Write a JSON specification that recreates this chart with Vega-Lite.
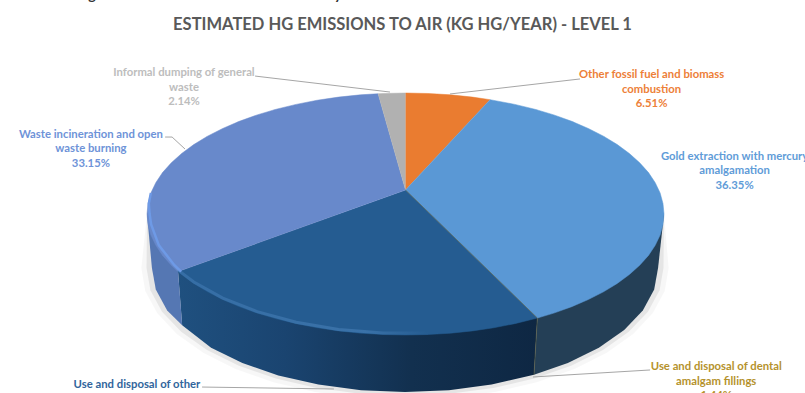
{
  "$schema": "https://vega.github.io/schema/vega-lite/v6.json",
  "width": 805,
  "height": 393,
  "padding": 0,
  "autosize": {"type": "none"},
  "background": "#ffffff",
  "title": {
    "text": "ESTIMATED HG EMISSIONS TO AIR (KG HG/YEAR) - LEVEL 1",
    "orient": "top",
    "anchor": "middle",
    "offset": -58,
    "baseline": "alphabetic",
    "font": "Lato",
    "fontSize": 16.55,
    "fontWeight": "bold",
    "color": "#595959"
  },
  "config": {"view": {"stroke": null}},
  "datasets": {
    "shares": [
      {"category": "Other fossil fuel and biomass combustion", "share": 6.51, "u": 0.952, "v": 1.12, "label": "Other fossil fuel and biomass\ncombustion\n6.51%"},
      {"category": "Gold extraction with mercury amalgamation", "share": 36.35, "u": 1.273, "v": 0.45, "label": "Gold extraction with mercury\namalgamation\n36.35%"},
      {"category": "Use and disposal of dental amalgam fillings", "share": 1.44, "u": 1.202, "v": -1.293, "label": "Use and disposal of dental\namalgam fillings\n1.44%"},
      {"category": "Use and disposal of other", "share": 20.41, "u": -1.039, "v": -1.434, "label": "Use and disposal of other"},
      {"category": "Waste incineration and open waste burning", "share": 33.15, "u": -1.217, "v": 0.632, "label": "Waste incineration and open\nwaste burning\n33.15%"},
      {"category": "Informal dumping of general waste", "share": 2.14, "u": -0.857, "v": 1.14, "label": "Informal dumping of general\nwaste\n2.14%"}
    ],
    "cutText": [
      {"u": -1.213, "v": 1.7686, "glyph": "g"},
      {"u": -0.261, "v": 1.7686, "glyph": "y"}
    ],
    "shadowWide": [
      {"u":1,"v":0},{"u":1.018,"v":-0.446},{"u":1.003,"v":-0.636},{"u":0.957,"v":-0.819},{"u":0.881,"v":-0.991},{"u":0.779,"v":-1.147},{"u":0.654,"v":-1.281},{"u":0.508,"v":-1.39},{"u":0.347,"v":-1.471},{"u":0.176,"v":-1.52},{"u":-0.002,"v":-1.536},{"u":-0.179,"v":-1.52},{"u":-0.351,"v":-1.471},{"u":-0.512,"v":-1.39},{"u":-0.658,"v":-1.281},{"u":-0.783,"v":-1.147},{"u":-0.885,"v":-0.991},{"u":-0.961,"v":-0.819},{"u":-1.007,"v":-0.636},{"u":-1.022,"v":-0.446},{"u":-1,"v":0}
    ],
    "shadowNear": [
      {"u":1,"v":0},{"u":0.998,"v":-0.446},{"u":0.983,"v":-0.63},{"u":0.938,"v":-0.807},{"u":0.864,"v":-0.974},{"u":0.764,"v":-1.124},{"u":0.641,"v":-1.254},{"u":0.498,"v":-1.36},{"u":0.34,"v":-1.438},{"u":0.172,"v":-1.485},{"u":-0.002,"v":-1.501},{"u":-0.176,"v":-1.485},{"u":-0.344,"v":-1.438},{"u":-0.502,"v":-1.36},{"u":-0.645,"v":-1.254},{"u":-0.768,"v":-1.124},{"u":-0.868,"v":-0.974},{"u":-0.942,"v":-0.807},{"u":-0.987,"v":-0.63},{"u":-1.002,"v":-0.446},{"u":-1,"v":0}
    ],
    "wallGold": [
      {"u":1,"v":0},{"u":0.977,"v":-0.446},{"u":0.962,"v":-0.624},{"u":0.918,"v":-0.797},{"u":0.846,"v":-0.959},{"u":0.748,"v":-1.105},{"u":0.628,"v":-1.231},{"u":0.497,"v":-1.328},{"u":0.51,"v":-0.86}
    ],
    "wallOther": [
      {"u":0.51,"v":-0.86},{"u":0.497,"v":-1.328},{"u":0.333,"v":-1.41},{"u":0.168,"v":-1.456},{"u":-0.002,"v":-1.471},{"u":-0.172,"v":-1.456},{"u":-0.337,"v":-1.41},{"u":-0.492,"v":-1.334},{"u":-0.631,"v":-1.231},{"u":-0.752,"v":-1.105},{"u":-0.864,"v":-0.92},{"u":-0.88,"v":-0.476}
    ],
    "wallWaste": [
      {"u":-0.88,"v":-0.476},{"u":-0.864,"v":-0.92},{"u":-0.922,"v":-0.797},{"u":-0.966,"v":-0.624},{"u":-0.981,"v":-0.446},{"u":-1,"v":0}
    ],
    "faces": [
      {"category":"Other fossil fuel","u":0,"v":0.198},{"category":"Other fossil fuel","u":0,"v":1},{"category":"Other fossil fuel","u":0.087,"v":0.996},{"category":"Other fossil fuel","u":0.174,"v":0.985},{"category":"Other fossil fuel","u":0.259,"v":0.966},{"category":"Other fossil fuel","u":0.327,"v":0.945},

      {"category":"Gold extraction","u":0,"v":0.198},{"category":"Gold extraction","u":0.327,"v":0.945},{"category":"Gold extraction","u":0.423,"v":0.906},{"category":"Gold extraction","u":0.5,"v":0.866},{"category":"Gold extraction","u":0.574,"v":0.819},{"category":"Gold extraction","u":0.643,"v":0.766},{"category":"Gold extraction","u":0.707,"v":0.707},{"category":"Gold extraction","u":0.766,"v":0.643},{"category":"Gold extraction","u":0.819,"v":0.574},{"category":"Gold extraction","u":0.866,"v":0.5},{"category":"Gold extraction","u":0.906,"v":0.423},{"category":"Gold extraction","u":0.94,"v":0.342},{"category":"Gold extraction","u":0.966,"v":0.259},{"category":"Gold extraction","u":0.985,"v":0.174},{"category":"Gold extraction","u":0.996,"v":0.087},{"category":"Gold extraction","u":1,"v":0},{"category":"Gold extraction","u":0.996,"v":-0.087},{"category":"Gold extraction","u":0.985,"v":-0.174},{"category":"Gold extraction","u":0.966,"v":-0.259},{"category":"Gold extraction","u":0.94,"v":-0.342},{"category":"Gold extraction","u":0.906,"v":-0.423},{"category":"Gold extraction","u":0.866,"v":-0.5},{"category":"Gold extraction","u":0.819,"v":-0.574},{"category":"Gold extraction","u":0.766,"v":-0.643},{"category":"Gold extraction","u":0.707,"v":-0.707},{"category":"Gold extraction","u":0.643,"v":-0.766},{"category":"Gold extraction","u":0.574,"v":-0.819},{"category":"Gold extraction","u":0.51,"v":-0.86},

      {"category":"Other uses","u":0,"v":0.198},{"category":"Other uses","u":0.51,"v":-0.86},{"category":"Other uses","u":0.423,"v":-0.906},{"category":"Other uses","u":0.342,"v":-0.94},{"category":"Other uses","u":0.259,"v":-0.966},{"category":"Other uses","u":0.174,"v":-0.985},{"category":"Other uses","u":0.087,"v":-0.996},{"category":"Other uses","u":0,"v":-1},{"category":"Other uses","u":-0.087,"v":-0.996},{"category":"Other uses","u":-0.174,"v":-0.985},{"category":"Other uses","u":-0.259,"v":-0.966},{"category":"Other uses","u":-0.342,"v":-0.94},{"category":"Other uses","u":-0.423,"v":-0.906},{"category":"Other uses","u":-0.5,"v":-0.866},{"category":"Other uses","u":-0.574,"v":-0.819},{"category":"Other uses","u":-0.643,"v":-0.766},{"category":"Other uses","u":-0.707,"v":-0.707},{"category":"Other uses","u":-0.766,"v":-0.643},{"category":"Other uses","u":-0.819,"v":-0.574},{"category":"Other uses","u":-0.866,"v":-0.5},{"category":"Other uses","u":-0.88,"v":-0.476},

      {"category":"Waste incineration","u":0,"v":0.198},{"category":"Waste incineration","u":-0.88,"v":-0.476},{"category":"Waste incineration","u":-0.906,"v":-0.423},{"category":"Waste incineration","u":-0.94,"v":-0.342},{"category":"Waste incineration","u":-0.966,"v":-0.259},{"category":"Waste incineration","u":-0.985,"v":-0.174},{"category":"Waste incineration","u":-0.996,"v":-0.087},{"category":"Waste incineration","u":-1,"v":0},{"category":"Waste incineration","u":-0.996,"v":0.087},{"category":"Waste incineration","u":-0.985,"v":0.174},{"category":"Waste incineration","u":-0.966,"v":0.259},{"category":"Waste incineration","u":-0.94,"v":0.342},{"category":"Waste incineration","u":-0.906,"v":0.423},{"category":"Waste incineration","u":-0.866,"v":0.5},{"category":"Waste incineration","u":-0.819,"v":0.574},{"category":"Waste incineration","u":-0.766,"v":0.643},{"category":"Waste incineration","u":-0.707,"v":0.707},{"category":"Waste incineration","u":-0.643,"v":0.766},{"category":"Waste incineration","u":-0.574,"v":0.819},{"category":"Waste incineration","u":-0.5,"v":0.866},{"category":"Waste incineration","u":-0.423,"v":0.906},{"category":"Waste incineration","u":-0.342,"v":0.94},{"category":"Waste incineration","u":-0.259,"v":0.966},{"category":"Waste incineration","u":-0.174,"v":0.985},{"category":"Waste incineration","u":-0.106,"v":0.994},

      {"category":"Informal dumping","u":0,"v":0.198},{"category":"Informal dumping","u":-0.106,"v":0.994},{"category":"Informal dumping","u":-0.087,"v":0.996},{"category":"Informal dumping","u":0,"v":1}
    ],
    "rimOther": [
      {"u":-0.88,"v":-0.464},{"u":-0.819,"v":-0.562},{"u":-0.707,"v":-0.695},{"u":-0.574,"v":-0.807},{"u":-0.423,"v":-0.894},{"u":-0.259,"v":-0.954},{"u":-0.087,"v":-0.984},{"u":0.087,"v":-0.984}
    ],
    "rimWaste": [
      {"u":-0.985,"v":0.174},{"u":-0.993,"v":0.087},{"u":-0.99,"v":0},{"u":-0.984,"v":-0.087},{"u":-0.954,"v":-0.259},{"u":-0.894,"v":-0.423},{"u":-0.868,"v":-0.476}
    ],
    "seam": [
      {"u":0,"v":0.198},{"u":0.51,"v":-0.86},{"u":0.497,"v":-1.328}
    ],
    "leaders": [
      {"leader":"informal","u":-0.582,"v":1.14},{"leader":"informal","u":-0.06,"v":1.008},
      {"leader":"waste","u":-0.93,"v":0.636},{"leader":"waste","u":-0.903,"v":0.636},{"leader":"waste","u":-0.853,"v":0.537},
      {"leader":"fossil","u":0.675,"v":1.116},{"leader":"fossil","u":0.172,"v":0.992},
      {"leader":"other","u":-0.787,"v":-1.43},{"leader":"other","u":-0.277,"v":-1.446},
      {"leader":"dental","u":0.946,"v":-1.289},{"leader":"dental","u":0.493,"v":-1.347}
    ]
  },
  "encoding": {
    "x": {"field": "u", "type": "quantitative", "axis": null, "scale": {"domain": [-1.5687, 1.5454], "nice": false, "zero": false}},
    "y": {"field": "v", "type": "quantitative", "axis": null, "scale": {"domain": [-1.4793, 1.7686], "nice": false, "zero": false}}
  },
  "layer": [
    {"data": {"name": "shadowWide"}, "mark": {"type": "line", "fill": "#000000", "fillOpacity": 0.03, "strokeWidth": 0}, "encoding": {"order": {"value": null}}},
    {"data": {"name": "shadowNear"}, "mark": {"type": "line", "fill": "#000000", "fillOpacity": 0.07, "strokeWidth": 0}, "encoding": {"order": {"value": null}}},
    {"data": {"name": "wallGold"}, "mark": {"type": "line", "fill": "#243f56", "strokeWidth": 0}, "encoding": {"order": {"value": null}}},
    {"data": {"name": "wallOther"}, "mark": {"type": "line", "strokeWidth": 0, "fill": {"gradient": "linear", "x1": 1, "x2": 0, "y1": 0, "y2": 0, "stops": [{"offset": 0, "color": "#0e2743"}, {"offset": 0.35, "color": "#12304f"}, {"offset": 0.7, "color": "#1a4470"}, {"offset": 1, "color": "#1f507f"}]}}, "encoding": {"order": {"value": null}}},
    {"data": {"name": "wallWaste"}, "mark": {"type": "line", "fill": "#5577b3", "strokeWidth": 0}, "encoding": {"order": {"value": null}}},
    {
      "data": {"name": "faces"},
      "mark": {"type": "line", "strokeWidth": 0.5},
      "encoding": {
        "order": {"value": null},
        "detail": {"field": "category"},
        "fill": {"field": "category", "type": "nominal", "legend": null, "scale": {"domain": ["Other fossil fuel", "Gold extraction", "Other uses", "Waste incineration", "Informal dumping"], "range": ["#ea7c30", "#5a98d5", "#255c91", "#6889cb", "#b1b1b1"]}},
        "stroke": {"field": "category", "type": "nominal", "legend": null, "scale": {"domain": ["Other fossil fuel", "Gold extraction", "Other uses", "Waste incineration", "Informal dumping"], "range": ["#ea7c30", "#5a98d5", "#255c91", "#6889cb", "#b1b1b1"]}}
      }
    },
    {"data": {"name": "rimOther"}, "mark": {"type": "line", "strokeWidth": 3, "strokeOpacity": 0.8, "stroke": {"gradient": "linear", "x1": 0, "x2": 1, "y1": 0, "y2": 0, "stops": [{"offset": 0, "color": "#3a72aa"}, {"offset": 0.75, "color": "#3f77ae"}, {"offset": 1, "color": "#255c91"}]}}, "encoding": {"order": {"value": null}}},
    {"data": {"name": "rimWaste"}, "mark": {"type": "line", "stroke": "#6e9ae6", "strokeWidth": 2.5}, "encoding": {"order": {"value": null}}},
    {"data": {"name": "seam"}, "mark": {"type": "line", "stroke": "#6f6a3c", "strokeWidth": 0.7, "strokeOpacity": 0.7}, "encoding": {"order": {"value": null}}},
    {"data": {"name": "leaders"}, "mark": {"type": "line", "stroke": "#a6a6a6", "strokeWidth": 1}, "encoding": {"order": {"value": null}, "detail": {"field": "leader"}}},
    {
      "data": {"name": "shares"},
      "mark": {"type": "text", "font": "Lato", "fontSize": 11.3, "fontWeight": "bold", "align": "center", "baseline": "alphabetic", "lineBreak": "\n", "lineHeight": 14.5},
      "encoding": {
        "text": {"field": "label", "type": "nominal"},
        "color": {"field": "category", "type": "nominal", "legend": null, "scale": {"domain": ["Other fossil fuel and biomass combustion", "Gold extraction with mercury amalgamation", "Use and disposal of dental amalgam fillings", "Use and disposal of other", "Waste incineration and open waste burning", "Informal dumping of general waste"], "range": ["#ed8038", "#5f9cd8", "#b5922c", "#31659c", "#6e93d8", "#bdbdbd"]}}
      }
    },
    {
      "data": {"name": "cutText"},
      "mark": {"type": "text", "font": "Lato", "fontSize": 14, "fontWeight": "bold", "align": "center", "baseline": "alphabetic", "color": "#333333"},
      "encoding": {"text": {"field": "glyph", "type": "nominal"}}
    }
  ]
}
